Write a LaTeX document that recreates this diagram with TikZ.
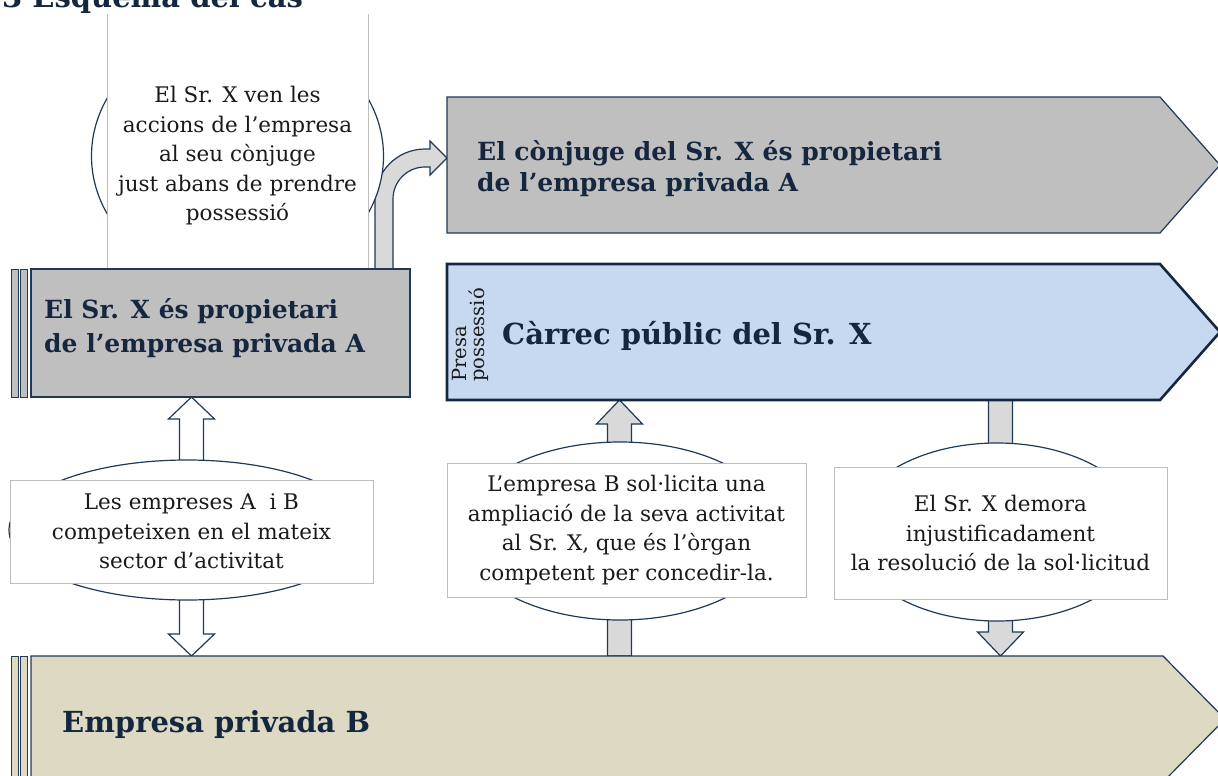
\documentclass[tikz,border=0pt]{standalone}
\usepackage{fontspec}
\setmainfont{DejaVu Serif}
\usetikzlibrary{positioning,calc}

\definecolor{framenavy}{HTML}{1F3957}
\definecolor{inknavy}{HTML}{15273F}
\definecolor{bodyink}{HTML}{1A1A1A}
\definecolor{plategrey}{HTML}{BFBFBF}
\definecolor{platesky}{HTML}{C6D9F1}
\definecolor{platesand}{HTML}{DDD9C3}
\definecolor{arrowgrey}{HTML}{D9D9D9}
\definecolor{edgegrey}{HTML}{BDBDBD}

\pgfdeclarelayer{arrowlayer}
\pgfdeclarelayer{ovallayer}
\pgfsetlayers{arrowlayer,ovallayer,main}

\tikzset{
  slot/.style={inner sep=0pt, outer sep=0pt},
  plate/.style={draw=framenavy, line width=1.2pt},
  strip/.style={draw=framenavy, line width=1pt, minimum width=7pt, inner sep=0pt, outer sep=0pt},
  headtxt/.style={font=\fontsize{25}{34}\selectfont\bfseries, text=inknavy, align=left, inner sep=0pt},
  bigtxt/.style={font=\fontsize{29}{33}\selectfont\bfseries, text=inknavy, inner sep=0pt},
  bubrect/.style={draw=edgegrey, line width=0.8pt, fill=white, inner sep=0pt, outer sep=0pt},
  bubtxt/.style={font=\fontsize{21.5}{29.5}\selectfont, text=bodyink, align=center},
  oval/.style={draw=framenavy, line width=1.2pt, fill=white},
  hollowarrow/.style={draw=framenavy, line width=1.2pt, fill=white, line join=miter},
  greyarrow/.style={draw=framenavy, line width=1.2pt, fill=arrowgrey, line join=miter}
}

\begin{document}
\begin{tikzpicture}[x=1pt,y=-1pt]
\useasboundingbox (0,0) rectangle (1218,776);

% sale to the spouse
\node[slot, fill=white, minimum width=261pt, minimum height=254pt, anchor=south] (sellframe) at (237.5,268) {};
\draw[edgegrey, line width=0.8pt] (sellframe.north west) -- (sellframe.south west)
  (sellframe.north east) -- (sellframe.south east);
\node[bubtxt, inner sep=0pt] (sells) at (237.5,156) {El Sr. X ven les\\accions de l’empresa\\al seu cònjuge\\just abans de prendre\\possessió};

% title, cut by the page edge
\node[bigtxt, anchor=base west] (title) at (2,8) {3 Esquema del cas};

% owner of A
\node[slot, plate, fill=plategrey, minimum width=379pt, minimum height=128pt] (ownA) at (220.5,333) {};
\node[strip, fill=plategrey, minimum height=128pt, left=3.5pt of ownA] (ownAbar) {};
\node[strip, fill=plategrey, minimum height=128pt, left=2.5pt of ownAbar] (ownAbar2) {};
\node[headtxt, anchor=west] (ownAtxt) at (44,328) {El Sr. X és propietari\\de l’empresa privada A};

% spouse owns A
\node[slot, minimum width=713pt, minimum height=136pt] (conj) at (803.5,165) {};
\draw[plate, fill=plategrey] (conj.north west) -- (conj.north east) -- ($(conj.east)+(60,0)$)
  -- (conj.south east) -- (conj.south west) -- cycle;
\node[headtxt, anchor=west, font=\fontsize{25}{31}\selectfont\bfseries] (conjtxt) at (477,169) {El cònjuge del Sr. X és propietari\\de l’empresa privada A};

% public office
\node[slot, minimum width=713pt, minimum height=136pt] (carrec) at (803.5,332) {};
\draw[plate, draw=inknavy, line width=2.6pt, fill=platesky] (carrec.north west) -- (carrec.north east)
  -- ($(carrec.east)+(60,0)$) -- (carrec.south east) -- (carrec.south west) -- cycle;
\node[bigtxt, anchor=base west] (carrectxt) at (502,344) {Càrrec públic del Sr. X};
\node[rotate=90, font=\fontsize{19.5}{18}\selectfont, text=bodyink, align=left, inner sep=0pt] (presa) at (470,335) {Presa\\possessió};

% company B
\node[slot, minimum width=1132pt, minimum height=126pt] (empB) at (597,719) {};
\draw[plate, fill=platesand] (empB.north west) -- (empB.north east) -- ($(empB.east)+(62,0)$)
  -- (empB.south east) -- (empB.south west) -- cycle;
\node[strip, fill=platesand, minimum height=126pt, left=3.5pt of empB] (empBbar) {};
\node[strip, fill=platesand, minimum height=126pt, left=2.5pt of empBbar] (empBbar2) {};
\node[bigtxt, anchor=base west] (empBtxt) at (62,732) {Empresa privada B};

% the three callouts
\node[bubrect, bubtxt, minimum width=363pt, minimum height=103pt] (compete) at (191.5,531.5)
  {Les empreses A\ \ i B\\competeixen en el mateix\\sector d’activitat};
\node[bubrect, bubtxt, minimum width=359pt, minimum height=134pt] (req) at (626.5,530)
  {L’empresa B sol·licita una\\ampliació de la seva activitat\\al Sr. X, que és l'òrgan\\competent per concedir-la.};
\node[bubrect, bubtxt, minimum width=333pt, minimum height=132pt] (delay) at (1000.5,533)
  {El Sr. X demora\\injustificadament\\la resolució de la sol·licitud};
\coordinate (reqaxis) at ($(req.center)+(-7,0)$);

\begin{pgfonlayer}{ovallayer}
\draw[oval] (sells.center) ellipse [x radius=146, y radius=128];
\draw[oval] ($(compete.center)+(-4.5,-1.5)$) ellipse [x radius=178, y radius=70];
\draw[oval] ($(req.center)+(-6.5,1)$) ellipse [x radius=159, y radius=89];
\draw[oval] ($(delay.center)+(-3.5,-1)$) ellipse [x radius=146, y radius=89];
\end{pgfonlayer}

\begin{pgfonlayer}{arrowlayer}
% A -> spouse
\draw[greyarrow] ($(ownA.north east)+(-35,0)$) coordinate (bend) -- ++(0,-70)
  arc[start angle=180, end angle=270, radius=50] -- ++(5,0) -- ++(0,-8)
  -- ($(conj.west)+(0,-7)$) -- ++(-17,17) -- ++(0,-8) -- ++(-5,0)
  arc[start angle=270, end angle=180, radius=32] -- ($(bend)+(18,0)$) -- cycle;
% A <-> B
\draw[hollowarrow] (compete |- ownA.south) -- ++(23,22) -- ++(-11,0)
  -- ($(compete |- empB.north)+(12,-22)$) -- ++(11,0) -- (compete |- empB.north)
  -- ++(-23,-22) -- ++(11,0) -- ($(compete |- ownA.south)+(-12,22)$) -- ++(-11,0) -- cycle;
% B -> office
\draw[greyarrow] (reqaxis |- carrec.south) -- ++(23,24) -- ++(-11,0)
  -- ($(reqaxis |- empB.north)+(12,0)$) -- ++(-24,0)
  -- ($(reqaxis |- carrec.south)+(-12,24)$) -- ++(-11,0) -- cycle;
% office -> B
\draw[greyarrow] ($(delay |- carrec.south)+(-12,0)$) -- ++(24,0)
  -- ($(delay |- empB.north)+(12,-24)$) -- ++(11,0) -- (delay |- empB.north)
  -- ++(-23,-24) -- ++(11,0) -- cycle;
\end{pgfonlayer}
\end{tikzpicture}
\end{document}
